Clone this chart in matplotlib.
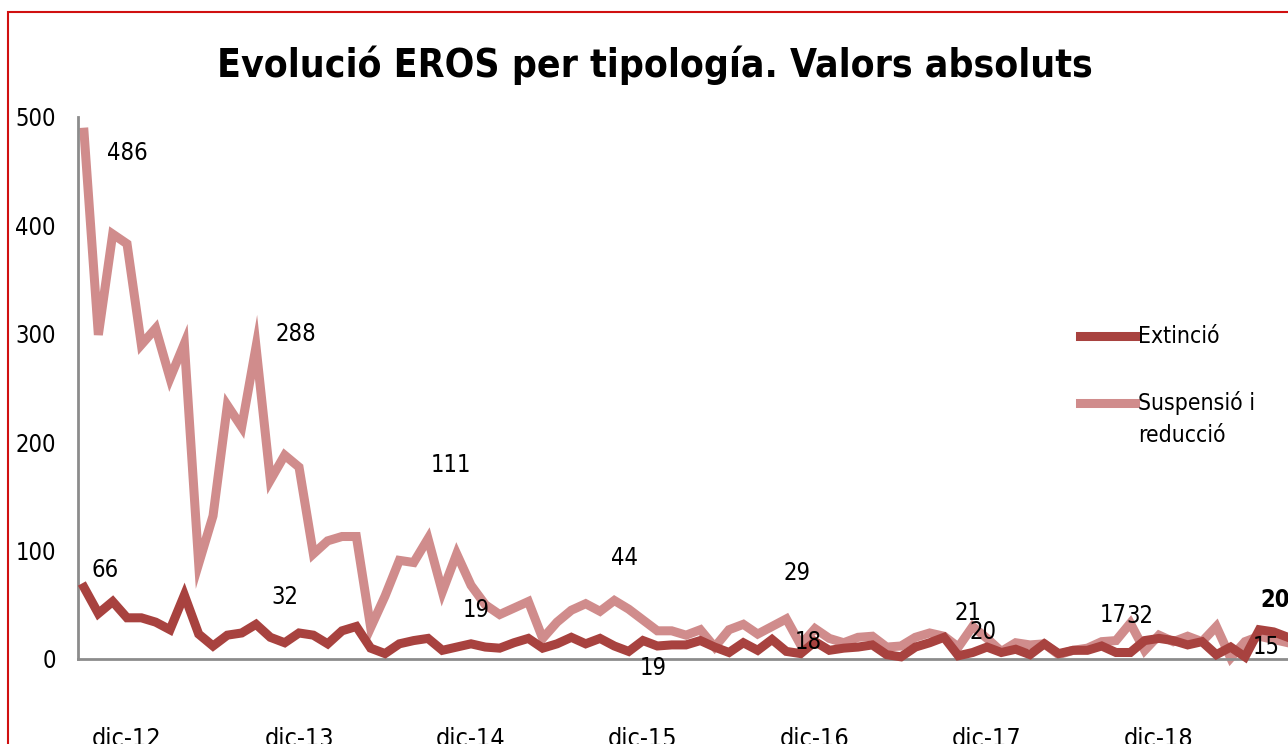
import matplotlib.pyplot as plt
from matplotlib.lines import Line2D
from matplotlib.patches import Rectangle

# Dades (mensuals, de set-12 a set-19)
extincio = [66, 42, 53, 38, 38, 34, 27, 59, 23, 12, 22, 24, 32, 20, 15, 24,
            22, 14, 26, 30, 10, 5, 14, 17, 19, 8, 11, 14, 11, 10, 15, 19,
            10, 14, 20, 14, 19, 12, 7, 17, 12, 13, 13, 17, 11, 6, 15, 8,
            18, 7, 5, 16, 8, 10, 11, 13, 4, 2, 11, 15, 20, 3, 6, 11,
            6, 9, 4, 14, 5, 8, 8, 12, 6, 6, 17, 19, 17, 13, 16, 4,
            11, 2, 27, 25, 20]
suspensio = [486, 299, 392, 383, 290, 305, 259, 291, 88, 132, 234, 214, 288, 165, 188, 177,
             97, 109, 113, 113, 29, 58, 91, 89, 111, 62, 97, 68, 50, 41, 47, 53,
             19, 34, 45, 51, 44, 54, 46, 36, 26, 26, 22, 27, 11, 27, 32, 23,
             30, 37, 13, 28, 19, 15, 20, 21, 11, 12, 20, 24, 21, 11, 30, 19,
             7, 15, 13, 14, 4, 8, 10, 16, 17, 33, 8, 22, 16, 21, 16, 30,
             1, 16, 21, 18, 15]
tick_pos = [3, 15, 27, 39, 51, 63, 75]
tick_labels = ['dic-12', 'dic-13', 'dic-14', 'dic-15', 'dic-16', 'dic-17', 'dic-18']

# etiquetes de dades: (serie, index, text, dx, dy en pixels)
etiquetes = [
    ('s', 0, '486', 43, -21), ('e', 0, '66', 21, 17),
    ('s', 12, '288', 40, 13), ('e', 12, '32', 29, 27),
    ('s', 24, '111', 23, 74), ('e', 24, '19', 48, 28),
    ('s', 36, '44', 24, 53), ('e', 36, '19', 53, -30),
    ('s', 48, '29', 25, 53), ('e', 48, '18', 36, -3),
    ('s', 60, '21', 24, 23), ('e', 60, '20', 39, 5),
    ('e', 72, '17', -3, 37), ('s', 72, '32', 24, 25),
    ('e', 84, '20', -13, 37), ('s', 84, '15', -22, -4),
]

plt.rcParams['font.family'] = ['DejaVu Sans']
plt.rcParams['font.stretch'] = 'condensed'

c_ext = '#A8423F'
c_sus = '#D08C8C'
W, H = 1288, 744

fig = plt.figure(figsize=(12.88, 7.44), dpi=100)
ax = fig.add_axes([78 / W, (H - 659) / H, (1288 - 78) / W, (659 - 117) / H])

x = list(range(len(extincio)))
ax.plot(x, extincio, color=c_ext, lw=6.5, solid_joinstyle='miter', clip_on=False, zorder=3)
ax.plot(x, suspensio, color=c_sus, lw=6.5, solid_joinstyle='miter', clip_on=False, zorder=2)

for k, (serie, i, txt, dx, dy) in enumerate(etiquetes):
    vals = suspensio if serie == 's' else extincio
    pes = 'bold' if k == len(etiquetes) - 2 else 'normal'
    ax.annotate(txt, (i, vals[i]), xytext=(dx, dy), textcoords='offset pixels',
                ha='center', va='center', fontsize=17, fontweight=pes, color='black',
                zorder=5, annotation_clip=False)

ax.set_xlim(-0.42, 84.0)
ax.set_ylim(0, 500)
ax.set_yticks([0, 100, 200, 300, 400, 500])
ax.set_xticks(tick_pos)
ax.set_xticklabels(tick_labels)
ax.tick_params(axis='y', length=0, labelsize=17, pad=16)
ax.tick_params(axis='x', length=0, labelsize=18, pad=49)
for s in ['top', 'right']:
    ax.spines[s].set_visible(False)
for s in ['left', 'bottom']:
    ax.spines[s].set_color('#8C8C8C')
    ax.spines[s].set_linewidth(2)

fig.text(655 / W, 1 - 65 / H, 'Evolució EROS per tipología. Valors absoluts',
         ha='center', va='center', fontsize=28, fontweight='bold')

# llegenda
fig.add_artist(Line2D([1080 / W, 1135 / W], [1 - 336 / H, 1 - 336 / H], color=c_ext, lw=6.5))
fig.add_artist(Line2D([1080 / W, 1135 / W], [1 - 403 / H, 1 - 403 / H], color=c_sus, lw=6.5))
fig.text(1138 / W, 1 - 336 / H, 'Extinció', ha='left', va='center', fontsize=16.5)
fig.text(1138 / W, 1 - 403 / H, 'Suspensió i', ha='left', va='center', fontsize=16.5)
fig.text(1138 / W, 1 - 435 / H, 'reducció', ha='left', va='center', fontsize=16.5)

fig.add_artist(Rectangle((8 / W, -0.1), 1.2, 1.1 - 12 / H, transform=fig.transFigure,
                         fill=False, edgecolor='#D01010', lw=1.5))

fig.savefig('out.png', dpi=100)
